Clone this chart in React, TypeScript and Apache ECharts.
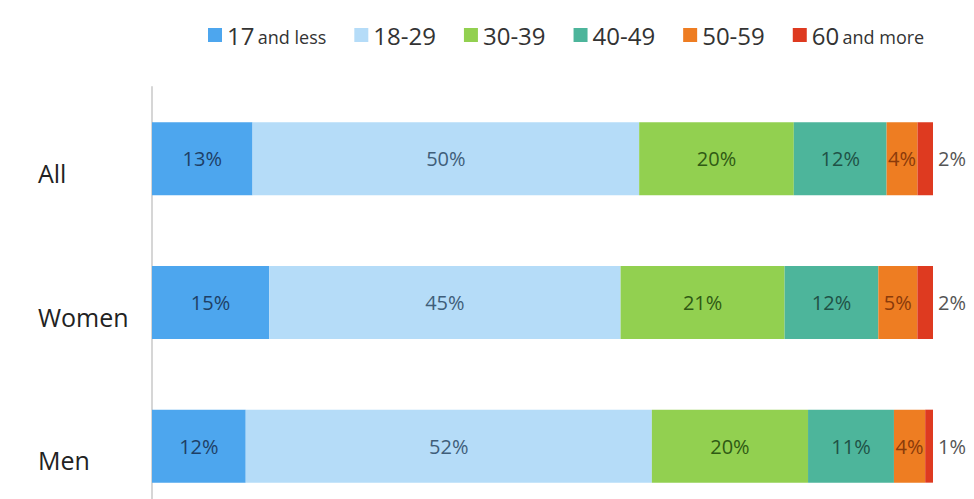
import React, { useEffect, useRef } from "react";
import * as echarts from "echarts";

const categories = ["All", "Women", "Men"];
const groups = ["17 and less", "18-29", "30-39", "40-49", "50-59", "60 and more"];
const age17AndLess = [13, 15, 12];
const age18to29 = [50, 45, 52];
const age30to39 = [20, 21, 20];
const age40to49 = [12, 12, 11];
const age50to59 = [4, 5, 4];
const age60AndMore = [2, 2, 1];

const values = [age17AndLess, age18to29, age30to39, age40to49, age50to59, age60AndMore];
const colors = ["#4DA6EE", "#B5DCF8", "#92D050", "#4DB59B", "#EE7D22", "#DE3A20"];
const labelColors = ["#1E3F66", "#3F5E7A", "#2F5A14", "#1F5246", "#8A3A0A", "#555555"];

const FONT = "'Open Sans', 'Noto Sans', sans-serif";

export default function App() {
  const ref = useRef<HTMLDivElement>(null);
  useEffect(() => {
    if (!ref.current) return;
    const chart = echarts.init(ref.current, null, { renderer: "svg" });
    const totals = categories.map((_, i) => values.reduce((s, arr) => s + arr[i], 0));
    const series = groups.map((name, gi) => ({
      name,
      type: "bar",
      stack: "total",
      barWidth: 73,
      data: values[gi].map((v, i) => (v / totals[i]) * 100),
      itemStyle: { color: colors[gi] },
      label: {
        show: true,
        position: gi === groups.length - 1 ? "right" : "inside",
        distance: 5,
        color: labelColors[gi],
        fontFamily: FONT,
        fontSize: 20,
        formatter: (p: any) => values[gi][p.dataIndex] + "%",
      },
    }));
    chart.setOption({
      animation: false,
      backgroundColor: "#ffffff",
      legend: {
        top: 18,
        left: 203,
        icon: "rect",
        itemWidth: 14,
        itemHeight: 14,
        itemGap: 28,
        data: groups,
        formatter: (name: string) => {
          const m = name.match(/^(\d+)\s(.*)$/);
          if (m) return `{n|${m[1]}} {s|${m[2]}}`;
          return `{n|${name}}`;
        },
        textStyle: {
          rich: {
            n: { fontSize: 24, color: "#333333", fontFamily: FONT },
            s: { fontSize: 18, color: "#333333", fontFamily: FONT, padding: [4, 0, 0, 0] },
          },
        },
      },
      grid: { left: 152, right: 41, top: 87, bottom: 2 },
      xAxis: {
        type: "value",
        min: 0,
        max: 100,
        show: false,
      },
      yAxis: {
        type: "category",
        data: categories,
        inverse: true,
        axisLine: { show: true, lineStyle: { color: "#d6d6d6", width: 2 } },
        axisTick: { show: false },
        axisLabel: {
          align: "left",
          margin: 114,
          verticalAlign: "middle",
          formatter: (v: string) => `{c|${v}}`,
          rich: {
            c: { fontSize: 25, color: "#222222", fontFamily: FONT, padding: [28, 0, 0, 0] },
          },
        },
      },
      series,
    });
    return () => chart.dispose();
  }, []);
  return (
    <div style={{ position: "fixed", left: 0, top: 0, width: 974, height: 499, overflow: "hidden" }}>
      <div ref={ref} style={{ width: 974, height: 520 }} />
    </div>
  );
}
